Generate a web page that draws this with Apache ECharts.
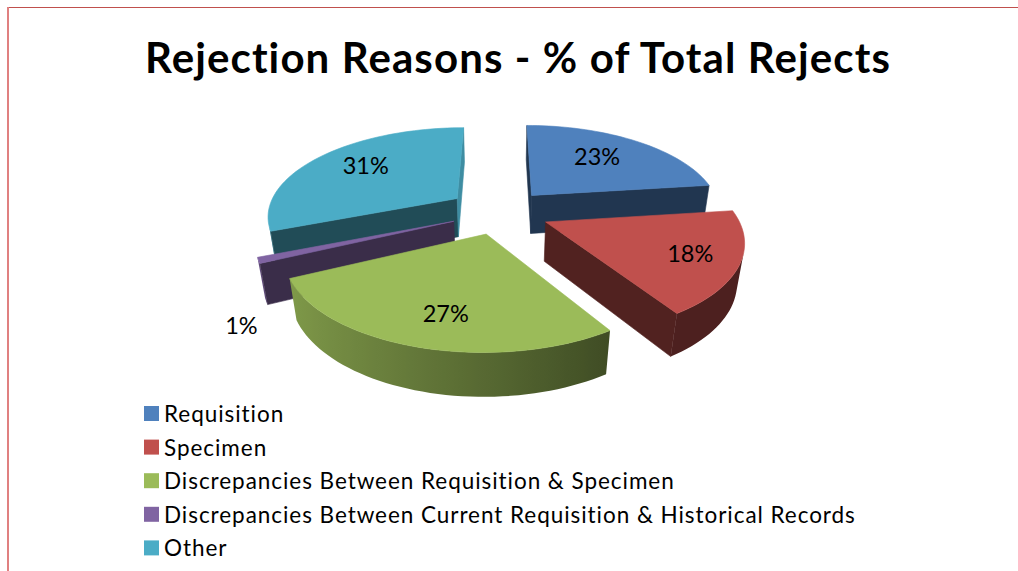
<!DOCTYPE html>
<html>
<head>
<meta charset="utf-8">
<title>Rejection Reasons</title>
<script src="https://cdn.jsdelivr.net/npm/echarts@6/dist/echarts.min.js"></script>
<style>
  html, body { margin: 0; padding: 0; background: #fff; }
  #main { width: 1018px; height: 571px; }
  /* Lato joins "ti" by default, the picture does not */
  #main text { font-variant-ligatures: none; }
  #main text[style*="42px"] { letter-spacing: 1.1px; }
  #main text[style*="22.5px"] { letter-spacing: 0.95px; }
</style>
</head>
<body>
<div id="main"></div>
<script>
// values
var reasons = [
  "Requisition",
  "Specimen",
  "Discrepancies Between Requisition & Specimen",
  "Discrepancies Between Current Requisition & Historical Records",
  "Other"
];
var rejectPct = [23, 18, 27, 1, 31];

var sliceColors = ["#4f81bd", "#c0504d", "#9bbb59", "#8064a2", "#4bacc6"];
// paint order, back slices first
var sliceZ = [3, 5, 6, 4, 2];
// how far each slice is pulled out of the pie
var sliceExplode = [0.26, 0.26, 0.25, 0.26, 0.28];
// where the % text sits, radius from slice tip and turn from the mid angle
var labelRadius = [0.66, 0.76, 0.73, 1.28, 0.7];
var labelTurn = [-3.5, 0, -3, -24, 4];

// fake 3D camera
var cam = { cx: 500, cy: 212, a: 190, b: 88, p: 0.18, q: 0.03, depth: 40 };

function project(x, y, down) {
  var w = 1 + cam.p * y + cam.q * down;
  return [cam.cx + (cam.a * x) / w, cam.cy + (-cam.b * y + cam.depth * down) / w];
}

function shade(hex, f) {
  var n = parseInt(hex.slice(1), 16);
  var r = Math.round(((n >> 16) & 255) * f);
  var g = Math.round(((n >> 8) & 255) * f);
  var b = Math.round((n & 255) * f);
  return "rgb(" + r + "," + g + "," + b + ")";
}

function quadArea(p) {
  var s = 0;
  for (var i = 0; i < p.length; i++) {
    var j = (i + 1) % p.length;
    s += p[i][0] * p[j][1] - p[j][0] * p[i][1];
  }
  return s;
}

function poly(points, color) {
  return {
    type: "polygon",
    shape: { points: points },
    style: { fill: color, stroke: color, lineWidth: 0.6 }
  };
}

// outer wall of one slice as a single polygon, lit from the left
function outerWall(rim, color) {
  var upper = [];
  var lower = [];
  var stops = [];
  for (var i = 0; i < rim.length - 1; i++) {
    var q = [
      project(rim[i][0], rim[i][1], 0),
      project(rim[i + 1][0], rim[i + 1][1], 0),
      project(rim[i + 1][0], rim[i + 1][1], 1),
      project(rim[i][0], rim[i][1], 1)
    ];
    if (quadArea(q) < 0) {
      if (!upper.length) {
        upper.push(q[0]);
        lower.push(q[3]);
      }
      upper.push(q[1]);
      lower.push(q[2]);
      var f = Math.max(0.4, 0.82 - (Math.sin(rim[i][2]) + 0.9) * 0.287);
      stops.push({ x: q[0][0], c: shade(color, f) });
    }
  }
  if (!upper.length) return null;
  var xs = upper.map(function (p) { return p[0]; });
  var x0 = Math.min.apply(null, xs);
  var x1 = Math.max.apply(null, xs);
  var span = Math.max(1, x1 - x0);
  var colorStops = stops
    .map(function (s) { return { offset: (s.x - x0) / span, color: s.c }; })
    .sort(function (m, n) { return m.offset - n.offset; });
  var fill = new echarts.graphic.LinearGradient(x0, 0, x1, 0, colorStops, true);
  return {
    type: "polygon",
    shape: { points: upper.concat(lower.reverse()) },
    style: { fill: fill }
  };
}

function renderSlice(index, value, color) {
  var total = rejectPct.reduce(function (s, v) { return s + v; }, 0);
  var before = 0;
  for (var k = 0; k < index; k++) before += rejectPct[k];
  var start = (before / total) * Math.PI * 2;
  var end = ((before + value) / total) * Math.PI * 2;
  var mid = (start + end) / 2;
  var ox = Math.sin(mid) * sliceExplode[index];
  var oy = Math.cos(mid) * sliceExplode[index];

  var children = [];
  var steps = Math.max(2, Math.ceil(((end - start) * 180) / Math.PI / 2));
  var rim = [];
  for (var i = 0; i <= steps; i++) {
    var t = start + ((end - start) * i) / steps;
    rim.push([ox + Math.sin(t), oy + Math.cos(t), t]);
  }

  var wall = outerWall(rim, color);
  if (wall) children.push(wall);

  // the two cut faces
  var faces = [
    { a: [ox, oy], b: rim[0], nx: -Math.cos(start) },
    { a: rim[steps], b: [ox, oy], nx: Math.cos(end) }
  ];
  faces.forEach(function (face) {
    var q = [
      project(face.a[0], face.a[1], 0),
      project(face.b[0], face.b[1], 0),
      project(face.b[0], face.b[1], 1),
      project(face.a[0], face.a[1], 1)
    ];
    if (quadArea(q) < 0) {
      var f = 0.42 + 0.4 * Math.pow(Math.max(0, face.nx), 3);
      children.push(poly(q, shade(color, f)));
    }
  });

  // top
  var top = [project(ox, oy, 0)];
  rim.forEach(function (r) { top.push(project(r[0], r[1], 0)); });
  children.push(poly(top, color));

  // % text
  var la = mid + (labelTurn[index] * Math.PI) / 180;
  var lp = project(ox + Math.sin(la) * labelRadius[index], oy + Math.cos(la) * labelRadius[index], 0);
  children.push({
    type: "text",
    style: {
      x: lp[0],
      y: lp[1],
      text: value + "%",
      fill: "#000",
      font: "23.5px Lato",
      align: "center",
      verticalAlign: "middle"
    }
  });
  return { type: "group", children: children };
}

var chart = echarts.init(document.getElementById("main"), null, { renderer: "svg" });

chart.setOption({
  animation: false,
  color: sliceColors,
  title: {
    text: "Rejection Reasons - % of Total Rejects",
    left: 513,
    top: 52,
    textAlign: "center",
    textVerticalAlign: "middle",
    textStyle: { fontFamily: "Lato", fontWeight: "bold", fontSize: 42, color: "#000" }
  },
  legend: {
    orient: "vertical",
    left: 144,
    top: 402,
    height: 165,
    padding: 0,
    itemWidth: 15,
    itemHeight: 15,
    itemGap: 10.6,
    icon: "rect",
    selectedMode: false,
    data: reasons,
    textStyle: { fontFamily: "Lato", fontSize: 22.5, color: "#000", lineHeight: 21 }
  },
  graphic: [
    { type: "line", shape: { x1: 8, y1: 7.5, x2: 1018, y2: 7.5 }, style: { stroke: "#c0504d", lineWidth: 1 } },
    { type: "line", shape: { x1: 8, y1: 7, x2: 8, y2: 571 }, style: { stroke: "#e08080", lineWidth: 2 } }
  ],
  series: reasons.map(function (name, i) {
    return {
      type: "custom",
      name: name,
      coordinateSystem: "none",
      z: sliceZ[i],
      silent: true,
      itemStyle: { color: sliceColors[i] },
      data: [rejectPct[i]],
      renderItem: function (params, api) {
        return renderSlice(i, api.value(0), sliceColors[i]);
      }
    };
  })
});
</script>
</body>
</html>
